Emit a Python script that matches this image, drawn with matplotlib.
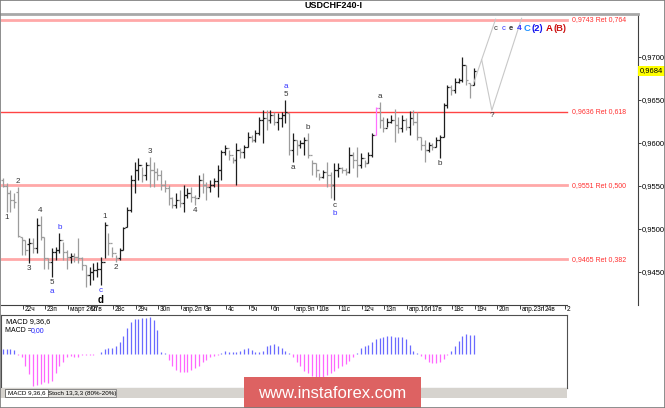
import numpy as np
import matplotlib.pyplot as plt
from matplotlib.patches import Rectangle
import matplotlib.transforms as mtransforms

# ---------------- data ----------------
high = [0.9559, 0.9553, 0.9545, 0.9542, 0.9549, 0.9491, 0.9487, 0.9490, 0.9490, 0.9513,
        0.9515, 0.9491, 0.9466, 0.9478, 0.9479, 0.9495, 0.9485, 0.9476, 0.9472, 0.9472,
        0.9490, 0.9467, 0.9458, 0.9456, 0.9460, 0.9462, 0.9467, 0.9508, 0.9495, 0.9479,
        0.9470, 0.9478, 0.9502, 0.9526, 0.9563, 0.9578, 0.9583, 0.9572, 0.9578, 0.9584,
        0.9578, 0.9571, 0.9569, 0.9557, 0.9551, 0.9537, 0.9542, 0.9545, 0.9551, 0.9548,
        0.9549, 0.9540, 0.9563, 0.9565, 0.9555, 0.9557, 0.9559, 0.9574, 0.9592, 0.9598,
        0.9592, 0.9584, 0.9600, 0.9594, 0.9598, 0.9613, 0.9609, 0.9615, 0.9630, 0.9638,
        0.9638, 0.9638, 0.9636, 0.9635, 0.9636, 0.9650, 0.9635, 0.9612, 0.9603, 0.9603,
        0.9607, 0.9612, 0.9580, 0.9577, 0.9565, 0.9569, 0.9578, 0.9566, 0.9577, 0.9577,
        0.9572, 0.9571, 0.9595, 0.9590, 0.9595, 0.9588, 0.9580, 0.9590, 0.9612, 0.9642,
        0.9648, 0.9630, 0.9629, 0.9633, 0.9640, 0.9630, 0.9633, 0.9629, 0.9637, 0.9638,
        0.9636, 0.9607, 0.9603, 0.9601, 0.9600, 0.9607, 0.9609, 0.9647, 0.9667, 0.9667,
        0.9676, 0.9676, 0.9700, 0.9691, 0.9670, 0.9687]
low = [0.9549, 0.9520, 0.9520, 0.9524, 0.9491, 0.9470, 0.9470, 0.9460, 0.9472, 0.9472,
       0.9487, 0.9454, 0.9454, 0.9444, 0.9464, 0.9472, 0.9464, 0.9454, 0.9460, 0.9462,
       0.9460, 0.9452, 0.9433, 0.9435, 0.9441, 0.9444, 0.9435, 0.9466, 0.9470, 0.9467,
       0.9462, 0.9464, 0.9476, 0.9502, 0.9520, 0.9542, 0.9557, 0.9555, 0.9557, 0.9549,
       0.9549, 0.9557, 0.9545, 0.9543, 0.9528, 0.9524, 0.9524, 0.9526, 0.9520, 0.9536,
       0.9531, 0.9528, 0.9537, 0.9542, 0.9534, 0.9543, 0.9549, 0.9537, 0.9557, 0.9586,
       0.9580, 0.9577, 0.9551, 0.9583, 0.9583, 0.9595, 0.9601, 0.9601, 0.9609, 0.9600,
       0.9615, 0.9623, 0.9621, 0.9615, 0.9619, 0.9623, 0.9586, 0.9578, 0.9586, 0.9594,
       0.9586, 0.9583, 0.9563, 0.9560, 0.9557, 0.9559, 0.9549, 0.9536, 0.9534, 0.9560,
       0.9565, 0.9563, 0.9565, 0.9571, 0.9560, 0.9571, 0.9572, 0.9577, 0.9584, 0.9609,
       0.9617, 0.9613, 0.9619, 0.9623, 0.9601, 0.9612, 0.9613, 0.9615, 0.9609, 0.9621,
       0.9603, 0.9592, 0.9578, 0.9590, 0.9592, 0.9595, 0.9583, 0.9607, 0.9641, 0.9656,
       0.9658, 0.9670, 0.9671, 0.9667, 0.9652, 0.9667]
open_ = [0.9557, 0.9550, 0.9542, 0.9534, 0.9543, 0.9491, 0.9487, 0.9482, 0.9484, 0.9478,
         0.9505, 0.9491, 0.9466, 0.9462, 0.9473, 0.9476, 0.9487, 0.9473, 0.9467, 0.9469,
         0.9467, 0.9466, 0.9458, 0.9447, 0.9450, 0.9452, 0.9454, 0.9462, 0.9505, 0.9484,
         0.9472, 0.9466, 0.9476, 0.9502, 0.9522, 0.9557, 0.9569, 0.9574, 0.9563, 0.9574,
         0.9569, 0.9566, 0.9563, 0.9551, 0.9548, 0.9536, 0.9528, 0.9534, 0.9530, 0.9540,
         0.9542, 0.9537, 0.9536, 0.9557, 0.9551, 0.9549, 0.9551, 0.9556, 0.9569, 0.9590,
         0.9594, 0.9586, 0.9580, 0.9592, 0.9590, 0.9595, 0.9607, 0.9603, 0.9612, 0.9627,
         0.9629, 0.9627, 0.9633, 0.9624, 0.9629, 0.9633, 0.9635, 0.9592, 0.9603, 0.9598,
         0.9600, 0.9603, 0.9586, 0.9577, 0.9569, 0.9560, 0.9566, 0.9563, 0.9551, 0.9569,
         0.9571, 0.9569, 0.9566, 0.9586, 0.9580, 0.9574, 0.9583, 0.9577, 0.9586, 0.9609,
         0.9641, 0.9627, 0.9617, 0.9624, 0.9627, 0.9621, 0.9617, 0.9627, 0.9619, 0.9629,
         0.9624, 0.9607, 0.9598, 0.9592, 0.9598, 0.9595, 0.9603, 0.9607, 0.9644, 0.9665,
         0.9662, 0.9671, 0.9673, 0.9691, 0.9670, 0.9667]
close = [0.9550, 0.9542, 0.9534, 0.9531, 0.9492, 0.9487, 0.9476, 0.9484, 0.9478, 0.9505,
         0.9491, 0.9466, 0.9462, 0.9473, 0.9476, 0.9487, 0.9473, 0.9467, 0.9469, 0.9467,
         0.9466, 0.9458, 0.9447, 0.9450, 0.9452, 0.9454, 0.9462, 0.9505, 0.9484, 0.9472,
         0.9466, 0.9476, 0.9501, 0.9522, 0.9557, 0.9569, 0.9574, 0.9563, 0.9574, 0.9569,
         0.9566, 0.9563, 0.9551, 0.9548, 0.9536, 0.9528, 0.9534, 0.9530, 0.9540, 0.9542,
         0.9537, 0.9536, 0.9557, 0.9551, 0.9549, 0.9551, 0.9556, 0.9569, 0.9590, 0.9594,
         0.9586, 0.9580, 0.9592, 0.9590, 0.9595, 0.9607, 0.9603, 0.9612, 0.9627, 0.9629,
         0.9627, 0.9633, 0.9624, 0.9629, 0.9633, 0.9636, 0.9592, 0.9603, 0.9598, 0.9600,
         0.9603, 0.9586, 0.9577, 0.9569, 0.9560, 0.9566, 0.9563, 0.9551, 0.9569, 0.9571,
         0.9569, 0.9566, 0.9586, 0.9580, 0.9574, 0.9583, 0.9577, 0.9586, 0.9609, 0.9641,
         0.9627, 0.9617, 0.9624, 0.9627, 0.9621, 0.9617, 0.9627, 0.9619, 0.9629, 0.9624,
         0.9607, 0.9598, 0.9592, 0.9598, 0.9595, 0.9603, 0.9607, 0.9644, 0.9665, 0.9662,
         0.9671, 0.9673, 0.9691, 0.9673, 0.9667, 0.9684]

# MACD histogram (x1e-5)
macd_hist = [5, 5, 5, 4, -1, -3, -12, -20, -32, -31,
             -30, -28, -29, -27, -19, -12, -8, -3, -2, -3,
             -3, -1, -0.5, -0.5, -0.5, -0.3, 2, 5, 6, 6,
             8, 12, 18, 26, 32, 35, 35, 36, 36, 37,
             34, 24, 2, 1, -6, -12, -16, -18, -18, -18,
             -16, -14, -12, -8, -6, -3, -2, -1, 1, 3,
             2, 2, 2, 3, 5, 6, 4, 2, 2, 3,
             8, 9, 10, 8, 6, 3, 1, -3, -8, -12,
             -17, -19, -22, -23, -24, -23, -21, -19, -17, -14,
             -12, -10, -7, -3, 1, 6, 8, 9, 12, 15,
             16, 17, 18, 18, 17, 17, 17, 15, 9, 3,
             1, -2, -5, -8, -9, -9, -8, -5, -1, 3,
             8, 13, 18, 20, 19, 19]

day_labels = ['22ч', '23п', 'март 26п', '27в', '28с', '29ч', '30п', 'апр.2п', '3в', '4с',
              '5ч', '6п', 'апр.9п', '10в', '11с', '12ч', '13п', 'апр.16п', '17в', '18с',
              '19ч', '20п', 'апр.23п', '24в', '2']
first_day_bar = 5.3
bars_per_day = 6

price_ticks = [0.9450, 0.9500, 0.9550, 0.9600, 0.9650, 0.9700]
fib_levels = [0.9743, 0.9636, 0.9551, 0.9465]
fib_ratios = ['0,764', '0,618', '0,500', '0,382']
last_price = 0.9684
pink_bar = 99

# wave marks: (bar, text, where, colour, bold)
wave_labels = [
    (1, '1', 'below', '#333333', False), (4, '2', 'above', '#333333', False),
    (7, '3', 'below', '#333333', False), (10, '4', 'above', '#333333', False),
    (13, '5', 'below', '#333333', False), (13, 'a', 'below2', '#3333ff', False),
    (15, 'b', 'above', '#3333ff', False),
    (26, 'c', 'below', '#3333ff', False), (26, 'd', 'below2', '#000000', True),
    (27, '1', 'above', '#333333', False), (30, '2', 'below', '#333333', False),
    (39, '3', 'above', '#333333', False), (51, '4', 'below', '#333333', False),
    (75, '5', 'above', '#333333', False), (75, 'a', 'above2', '#3333ff', False),
    (77, 'a', 'below', '#333333', False), (81, 'b', 'above', '#333333', False),
    (88, 'c', 'below', '#333333', False), (88, 'b', 'below2', '#3333ff', False),
    (100, 'a', 'above', '#333333', False), (116, 'b', 'below', '#333333', False),
]

# forecast path drawn after the last bar
proj_x = [125, 127.1, 129.8, 137.7]
proj_y = [0.9670, 0.9697, 0.9638, 0.9745]
alt_x = [127.1, 130.8]
alt_y = [0.9697, 0.9744]
wave_tag = [('c', '#333333', 5.5, 'normal'), ('c', '#3030ff', 5.5, 'normal'),
            ('e', '#333333', 5.5, 'bold'), ('4', '#3030ff', 6, 'bold'),
            ('C', '#1e90ff', 6.8, 'bold'), ('(2)', '#1010ee', 6.8, 'bold'),
            ('A', '#cc0000', 6.8, 'bold'), ('(B)', '#cc1111', 6.8, 'bold')]
wave_tag_dx = [0, 8, 15, 23, 30, 38, 52, 60]   # pixels


plt.rcParams['font.family'] = 'Liberation Sans'
W, H = 665, 408
fig = plt.figure(figsize=(W / 100, H / 100), dpi=100)
fig.patch.set_facecolor('white')


def fx(px):
    return px / W


def fy(py):
    return 1 - py / H


# --- main price panel ---
ax = fig.add_axes([fx(1), fy(305), fx(637), (305 - 14) / H])
n = len(close)
x = np.arange(n)
cols = ['#1e1e1e' if c >= o else '#9c9c9c' for o, c in zip(open_, close)]
cols[pink_bar] = '#ff70ff'
ax.vlines(x, low, high, colors=cols, lw=0.9)
ax.hlines(open_, x - 0.55, x, colors=cols, lw=0.9)
ax.hlines(close, x, x + 0.55, colors=cols, lw=0.9)

ax.set_xlim(-0.5, 168.6)
ax.set_ylim(0.94116, 0.97500)

# fib retracements
line_end = (567 - 1) / 637
for lev, r in zip(fib_levels, fib_ratios):
    thin = abs(lev - 0.9636) < 1e-6
    ax.axhline(lev, xmin=0, xmax=line_end, color='#ff4444' if thin else '#ffa8a8',
               lw=1.0 if thin else 2.0, zorder=1)
    ax.text(line_end + 0.008, lev, f'{lev:.4f} Ret {r}'.replace('.', ','),
            transform=ax.get_yaxis_transform(), color='#ff3030', fontsize=5,
            ha='left', va='center')

# wave marks
offs = {'above': (1.5, 'bottom'), 'above2': (7.5, 'bottom'),
        'below': (-1.5, 'top'), 'below2': (-7.5, 'top')}
for b, t, where, c, bold in wave_labels:
    yv = high[b] if where.startswith('above') else low[b]
    dy, va = offs[where]
    ax.annotate(t, (b, yv), xytext=(0, dy), textcoords='offset points', ha='center',
                va=va, color=c, fontsize=7 if bold else 5.8,
                fontweight='bold' if bold else 'normal')

# forecast lines
ax.plot(proj_x, proj_y, color='#c8c8c8', lw=0.8)
ax.plot(alt_x, alt_y, color='#c8c8c8', lw=0.8)
ax.annotate('?', (proj_x[2], proj_y[2]), xytext=(0, -1), textcoords='offset points',
            ha='center', va='top', fontsize=5.8, color='#333333')
for (t, c, s, w), dx in zip(wave_tag, wave_tag_dx):
    ax.annotate(t, (130.3, 0.9733), xytext=(dx, 0), textcoords='offset pixels',
                ha='left', va='center', color=c, fontsize=s, fontweight=w)

# axes styling
for side in ['left', 'bottom']:
    ax.spines[side].set_visible(False)
ax.spines['top'].set_color('#a8a8a8')
ax.spines['top'].set_linewidth(2)
ax.spines['right'].set_color('#404040')
ax.spines['right'].set_linewidth(0.8)
ax.plot([0, line_end], [0, 0], transform=ax.transAxes, color='#404040', lw=0.8,
        clip_on=False)

ax.yaxis.tick_right()
ax.set_yticks(price_ticks)
ax.set_yticklabels([f'{p:.4f}'.replace('.', ',') for p in price_ticks])
ax.tick_params(axis='y', length=2, width=0.7, color='#404040', labelsize=5.5, pad=0.5)

xt = [first_day_bar + bars_per_day * k for k in range(len(day_labels))]
ax.set_xticks(xt)
ax.set_xticklabels(day_labels)
ax.tick_params(axis='x', length=3, width=0.7, color='#404040', labelsize=4.7, pad=-2.3)
shift = mtransforms.ScaledTranslation(1.5 / 100, 0, fig.dpi_scale_trans)
for lab in ax.get_xticklabels():
    lab.set_ha('left')
    lab.set_transform(lab.get_transform() + shift)

# current price box
ax.annotate(f'{last_price:.4f}'.replace('.', ','), (1, last_price),
            xycoords=ax.get_yaxis_transform(), xytext=(2, 0), textcoords='offset pixels',
            ha='left', va='center', fontsize=5.5,
            bbox=dict(boxstyle='square,pad=0.2', fc='#ffff00', ec='none'))

fig.text(fx(333), fy(6), 'USDCHF240-I', ha='center', va='center', fontsize=6.5,
         fontweight='bold')

# --- MACD panel ---
ax2 = fig.add_axes([fx(1), fy(388), fx(566), (388 - 315) / H])
mcols = ['#6a6aff' if v >= 0 else '#ff66ff' for v in macd_hist]
ax2.vlines(x, 0, macd_hist, colors=mcols, lw=0.9)
ax2.set_xlim(-0.5, 149.75)
ax2.set_ylim(-34, 39.3)
ax2.set_xticks([])
ax2.set_yticks([])
for s in ax2.spines.values():
    s.set_color('#505050')
    s.set_linewidth(0.8)
ax2.text(fx(5) / fx(566), 0.96, 'MACD 9,36,6', transform=ax2.transAxes, fontsize=5.3,
         va='top')
ax2.text(fx(4) / fx(566), 0.83, 'MACD =', transform=ax2.transAxes, fontsize=5, va='top')
ax2.text(fx(30) / fx(566), 0.83, '0,00', transform=ax2.transAxes, fontsize=5, va='top',
         color='#2020ff')

# tab strip
fig.patches.append(Rectangle((fx(0), fy(398)), fx(567), 10 / H, transform=fig.transFigure,
                             fc='#d6d3ce', ec='none', zorder=0))
fig.patches.append(Rectangle((fx(5), fy(397)), fx(43), 8 / H, transform=fig.transFigure,
                             fc='white', ec='#606060', lw=0.6, zorder=1))
fig.patches.append(Rectangle((fx(48), fy(397)), fx(68), 8 / H, transform=fig.transFigure,
                             fc='#e4e2de', ec='#808080', lw=0.6, zorder=1))
fig.text(fx(26.5), fy(393), 'MACD 9,36,6', fontsize=4.5, ha='center', va='center')
fig.text(fx(82), fy(393), 'Stoch 13,3,3 (80%-20%)', fontsize=4.5, ha='center', va='center')

# watermark
fig.patches.append(Rectangle((fx(244), fy(408)), fx(177), 31 / H, transform=fig.transFigure,
                             fc='#dd6262', ec='none', zorder=5))
fig.text(fx(332), fy(393), 'www.instaforex.com', color='white', fontsize=12,
         ha='center', va='center', zorder=6)

# outer frame
fig.patches.append(Rectangle((0, 0), 1, 1, transform=fig.transFigure, fill=False,
                             ec='#7a7a7a', lw=1.2, zorder=10))

fig.savefig('out.png', dpi=100, facecolor='white')
